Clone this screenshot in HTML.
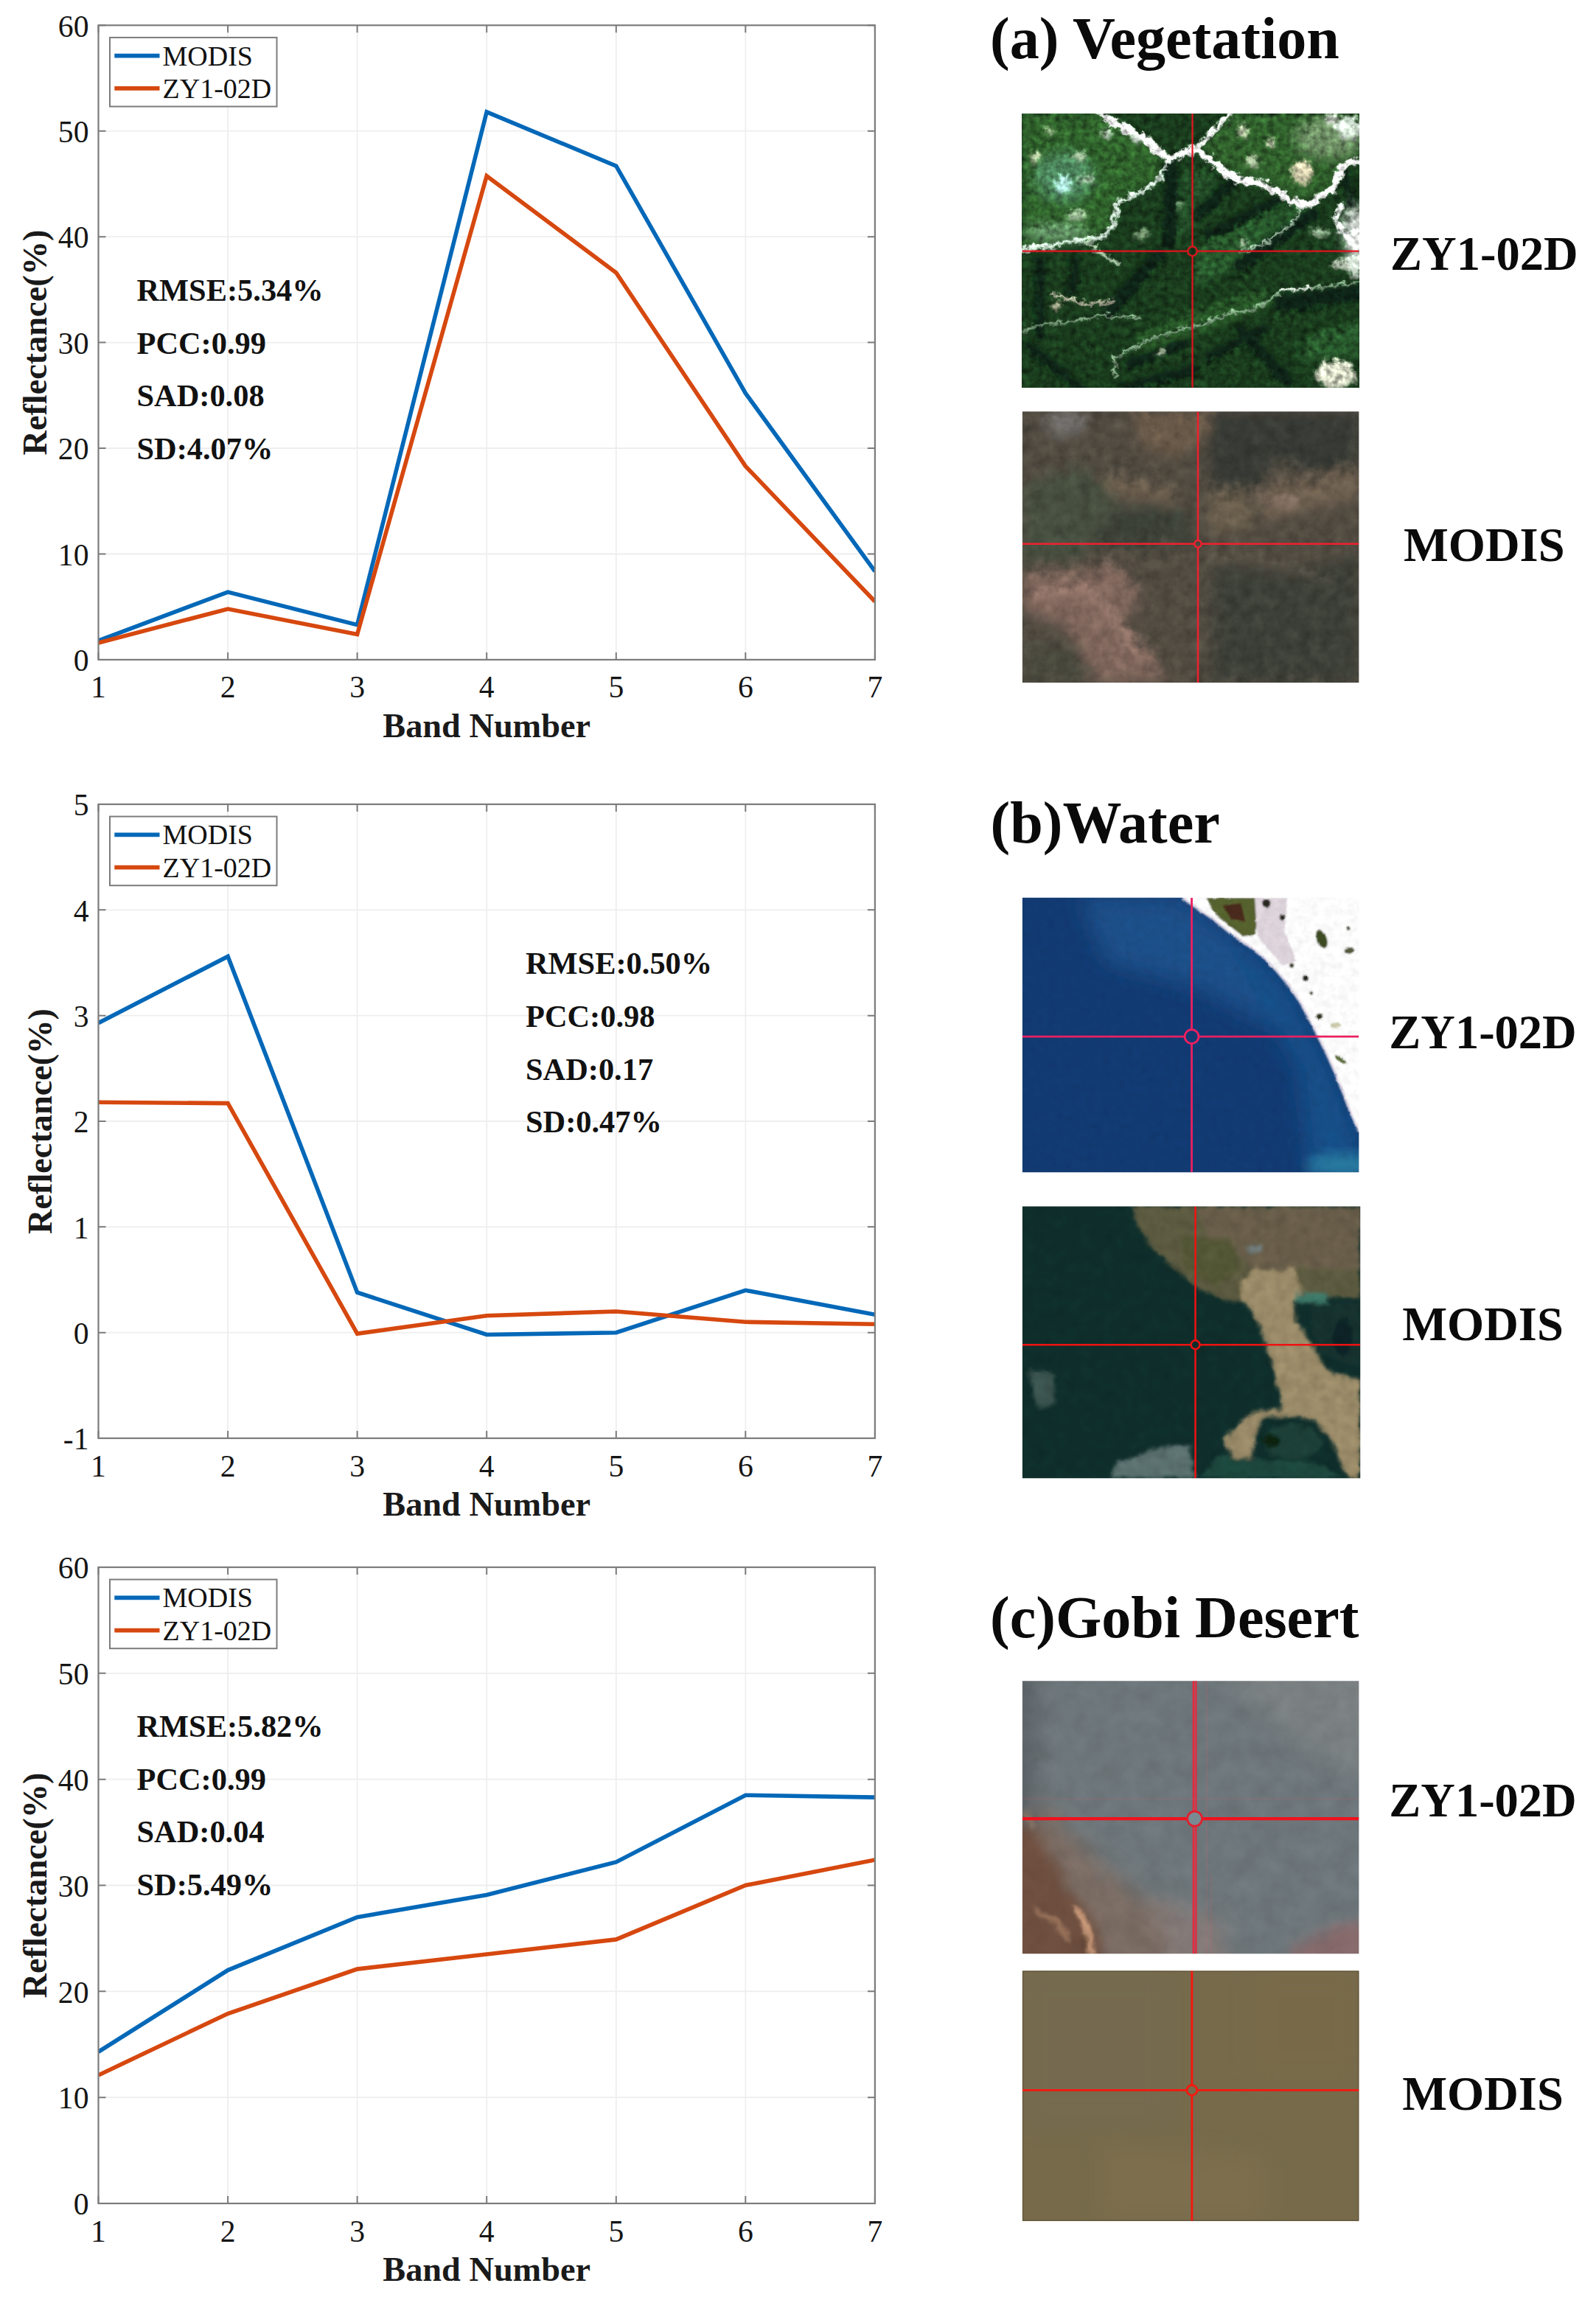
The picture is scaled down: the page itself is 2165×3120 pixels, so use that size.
<!DOCTYPE html>
<html><head><meta charset="utf-8"><title>Figure</title>
<style>
html,body{margin:0;padding:0;background:#fff}
body{width:2165px;height:3120px;overflow:hidden}
svg{display:block}
text{font-family:"Liberation Serif", serif}
</style></head><body>
<svg width="2165" height="3120" viewBox="0 0 2165 3120">
<rect width="2165" height="3120" fill="#fff"/>
<g>
<path d="M309.1 34.3V894.9M484.6 34.3V894.9M660.2 34.3V894.9M835.8 34.3V894.9M1011.3 34.3V894.9M133.5 751.5H1186.9M133.5 608.0H1186.9M133.5 464.6H1186.9M133.5 321.2H1186.9M133.5 177.7H1186.9" stroke="#eeeeee" stroke-width="1.8" fill="none"/>
<polyline points="133.5,869.1 309.1,803.1 484.6,847.6 660.2,151.9 835.8,225.1 1011.3,533.4 1186.9,775.1" fill="none" stroke="#0468B8" stroke-width="5.6" stroke-linejoin="miter" clip-path="url(#c34)"/>
<polyline points="133.5,872.0 309.1,826.1 484.6,860.5 660.2,238.7 835.8,369.9 1011.3,632.4 1186.9,816.0" fill="none" stroke="#D6480F" stroke-width="5.6" stroke-linejoin="miter" clip-path="url(#c34)"/>
<clipPath id="c34"><rect x="133.5" y="34.3" width="1053.4" height="860.6"/></clipPath>
<path d="M133.5 894.9v-10M133.5 34.3v10M309.1 894.9v-10M309.1 34.3v10M484.6 894.9v-10M484.6 34.3v10M660.2 894.9v-10M660.2 34.3v10M835.8 894.9v-10M835.8 34.3v10M1011.3 894.9v-10M1011.3 34.3v10M1186.9 894.9v-10M1186.9 34.3v10M133.5 894.9h10M1186.9 894.9h-10M133.5 751.5h10M1186.9 751.5h-10M133.5 608.0h10M1186.9 608.0h-10M133.5 464.6h10M1186.9 464.6h-10M133.5 321.2h10M1186.9 321.2h-10M133.5 177.7h10M1186.9 177.7h-10M133.5 34.3h10M1186.9 34.3h-10" stroke="#7c7c7c" stroke-width="2" fill="none"/>
<rect x="133.5" y="34.3" width="1053.4" height="860.6" fill="none" stroke="#7c7c7c" stroke-width="2.2"/>
<g font-size="41.7" fill="#151515">
<text x="133.5" y="946.4" text-anchor="middle">1</text>
<text x="309.1" y="946.4" text-anchor="middle">2</text>
<text x="484.6" y="946.4" text-anchor="middle">3</text>
<text x="660.2" y="946.4" text-anchor="middle">4</text>
<text x="835.8" y="946.4" text-anchor="middle">5</text>
<text x="1011.3" y="946.4" text-anchor="middle">6</text>
<text x="1186.9" y="946.4" text-anchor="middle">7</text>
<text x="120.5" y="910.1" text-anchor="end">0</text>
<text x="120.5" y="766.7" text-anchor="end">10</text>
<text x="120.5" y="623.2" text-anchor="end">20</text>
<text x="120.5" y="479.8" text-anchor="end">30</text>
<text x="120.5" y="336.4" text-anchor="end">40</text>
<text x="120.5" y="192.9" text-anchor="end">50</text>
<text x="120.5" y="49.5" text-anchor="end">60</text>
</g>
<text x="660.2" y="999.9" text-anchor="middle" font-size="46.3" font-weight="bold" fill="#1a1a1a">Band Number</text>
<text transform="translate(62.5,464.6) rotate(-90)" text-anchor="middle" font-size="46.3" font-weight="bold" fill="#1a1a1a">Reflectance(%)</text>
<rect x="149.0" y="50.9" width="226.5" height="93.6" fill="#fff" stroke="#7c7c7c" stroke-width="2"/>
<path d="M155.3 75.6h61.2" stroke="#0468B8" stroke-width="5.8"/>
<path d="M155.3 119.9h61.2" stroke="#D6480F" stroke-width="5.8"/>
<text x="220.5" y="88.69999999999999" font-size="38.0" fill="#111">MODIS</text>
<text x="220.5" y="132.9" font-size="38.0" fill="#111">ZY1-02D</text>
<g font-size="42.4" font-weight="bold" fill="#111">
<text x="185.5" y="407.8">RMSE:5.34%</text>
<text x="185.5" y="479.6">PCC:0.99</text>
<text x="185.5" y="551.4">SAD:0.08</text>
<text x="185.5" y="623.2">SD:4.07%</text>
</g>
</g>
<g>
<path d="M309.1 1091V1951M484.6 1091V1951M660.2 1091V1951M835.8 1091V1951M1011.3 1091V1951M133.5 1807.7H1186.9M133.5 1664.3H1186.9M133.5 1521.0H1186.9M133.5 1377.7H1186.9M133.5 1234.3H1186.9" stroke="#eeeeee" stroke-width="1.8" fill="none"/>
<polyline points="133.5,1387.7 309.1,1297.4 484.6,1753.2 660.2,1810.5 835.8,1807.7 1011.3,1750.3 1186.9,1783.3" fill="none" stroke="#0468B8" stroke-width="5.6" stroke-linejoin="miter" clip-path="url(#c1091)"/>
<polyline points="133.5,1495.2 309.1,1496.6 484.6,1809.1 660.2,1784.7 835.8,1779.0 1011.3,1793.3 1186.9,1796.2" fill="none" stroke="#D6480F" stroke-width="5.6" stroke-linejoin="miter" clip-path="url(#c1091)"/>
<clipPath id="c1091"><rect x="133.5" y="1091" width="1053.4" height="860"/></clipPath>
<path d="M133.5 1951v-10M133.5 1091v10M309.1 1951v-10M309.1 1091v10M484.6 1951v-10M484.6 1091v10M660.2 1951v-10M660.2 1091v10M835.8 1951v-10M835.8 1091v10M1011.3 1951v-10M1011.3 1091v10M1186.9 1951v-10M1186.9 1091v10M133.5 1951.0h10M1186.9 1951.0h-10M133.5 1807.7h10M1186.9 1807.7h-10M133.5 1664.3h10M1186.9 1664.3h-10M133.5 1521.0h10M1186.9 1521.0h-10M133.5 1377.7h10M1186.9 1377.7h-10M133.5 1234.3h10M1186.9 1234.3h-10M133.5 1091.0h10M1186.9 1091.0h-10" stroke="#7c7c7c" stroke-width="2" fill="none"/>
<rect x="133.5" y="1091" width="1053.4" height="860" fill="none" stroke="#7c7c7c" stroke-width="2.2"/>
<g font-size="41.7" fill="#151515">
<text x="133.5" y="2002.5" text-anchor="middle">1</text>
<text x="309.1" y="2002.5" text-anchor="middle">2</text>
<text x="484.6" y="2002.5" text-anchor="middle">3</text>
<text x="660.2" y="2002.5" text-anchor="middle">4</text>
<text x="835.8" y="2002.5" text-anchor="middle">5</text>
<text x="1011.3" y="2002.5" text-anchor="middle">6</text>
<text x="1186.9" y="2002.5" text-anchor="middle">7</text>
<text x="120.5" y="1966.2" text-anchor="end">-1</text>
<text x="120.5" y="1822.9" text-anchor="end">0</text>
<text x="120.5" y="1679.5" text-anchor="end">1</text>
<text x="120.5" y="1536.2" text-anchor="end">2</text>
<text x="120.5" y="1392.9" text-anchor="end">3</text>
<text x="120.5" y="1249.5" text-anchor="end">4</text>
<text x="120.5" y="1106.2" text-anchor="end">5</text>
</g>
<text x="660.2" y="2056.0" text-anchor="middle" font-size="46.3" font-weight="bold" fill="#1a1a1a">Band Number</text>
<text transform="translate(69.5,1521.0) rotate(-90)" text-anchor="middle" font-size="46.3" font-weight="bold" fill="#1a1a1a">Reflectance(%)</text>
<rect x="149.0" y="1107.6" width="226.5" height="93.6" fill="#fff" stroke="#7c7c7c" stroke-width="2"/>
<path d="M155.3 1132.3h61.2" stroke="#0468B8" stroke-width="5.8"/>
<path d="M155.3 1176.6h61.2" stroke="#D6480F" stroke-width="5.8"/>
<text x="220.5" y="1145.3999999999999" font-size="38.0" fill="#111">MODIS</text>
<text x="220.5" y="1189.6" font-size="38.0" fill="#111">ZY1-02D</text>
<g font-size="42.4" font-weight="bold" fill="#111">
<text x="713" y="1321.0">RMSE:0.50%</text>
<text x="713" y="1392.8">PCC:0.98</text>
<text x="713" y="1464.6">SAD:0.17</text>
<text x="713" y="1536.4">SD:0.47%</text>
</g>
</g>
<g>
<path d="M309.1 2126V2989M484.6 2126V2989M660.2 2126V2989M835.8 2126V2989M1011.3 2126V2989M133.5 2845.2H1186.9M133.5 2701.3H1186.9M133.5 2557.5H1186.9M133.5 2413.7H1186.9M133.5 2269.8H1186.9" stroke="#eeeeee" stroke-width="1.8" fill="none"/>
<polyline points="133.5,2783.3 309.1,2672.6 484.6,2600.7 660.2,2570.4 835.8,2525.9 1011.3,2435.2 1186.9,2438.1" fill="none" stroke="#0468B8" stroke-width="5.6" stroke-linejoin="miter" clip-path="url(#c2126)"/>
<polyline points="133.5,2815.0 309.1,2731.5 484.6,2671.1 660.2,2651.0 835.8,2630.9 1011.3,2557.5 1186.9,2523.0" fill="none" stroke="#D6480F" stroke-width="5.6" stroke-linejoin="miter" clip-path="url(#c2126)"/>
<clipPath id="c2126"><rect x="133.5" y="2126" width="1053.4" height="863"/></clipPath>
<path d="M133.5 2989v-10M133.5 2126v10M309.1 2989v-10M309.1 2126v10M484.6 2989v-10M484.6 2126v10M660.2 2989v-10M660.2 2126v10M835.8 2989v-10M835.8 2126v10M1011.3 2989v-10M1011.3 2126v10M1186.9 2989v-10M1186.9 2126v10M133.5 2989.0h10M1186.9 2989.0h-10M133.5 2845.2h10M1186.9 2845.2h-10M133.5 2701.3h10M1186.9 2701.3h-10M133.5 2557.5h10M1186.9 2557.5h-10M133.5 2413.7h10M1186.9 2413.7h-10M133.5 2269.8h10M1186.9 2269.8h-10M133.5 2126.0h10M1186.9 2126.0h-10" stroke="#7c7c7c" stroke-width="2" fill="none"/>
<rect x="133.5" y="2126" width="1053.4" height="863" fill="none" stroke="#7c7c7c" stroke-width="2.2"/>
<g font-size="41.7" fill="#151515">
<text x="133.5" y="3040.5" text-anchor="middle">1</text>
<text x="309.1" y="3040.5" text-anchor="middle">2</text>
<text x="484.6" y="3040.5" text-anchor="middle">3</text>
<text x="660.2" y="3040.5" text-anchor="middle">4</text>
<text x="835.8" y="3040.5" text-anchor="middle">5</text>
<text x="1011.3" y="3040.5" text-anchor="middle">6</text>
<text x="1186.9" y="3040.5" text-anchor="middle">7</text>
<text x="120.5" y="3004.2" text-anchor="end">0</text>
<text x="120.5" y="2860.4" text-anchor="end">10</text>
<text x="120.5" y="2716.5" text-anchor="end">20</text>
<text x="120.5" y="2572.7" text-anchor="end">30</text>
<text x="120.5" y="2428.9" text-anchor="end">40</text>
<text x="120.5" y="2285.0" text-anchor="end">50</text>
<text x="120.5" y="2141.2" text-anchor="end">60</text>
</g>
<text x="660.2" y="3094.0" text-anchor="middle" font-size="46.3" font-weight="bold" fill="#1a1a1a">Band Number</text>
<text transform="translate(62.5,2557.5) rotate(-90)" text-anchor="middle" font-size="46.3" font-weight="bold" fill="#1a1a1a">Reflectance(%)</text>
<rect x="149.0" y="2142.6" width="226.5" height="93.6" fill="#fff" stroke="#7c7c7c" stroke-width="2"/>
<path d="M155.3 2167.2999999999997h61.2" stroke="#0468B8" stroke-width="5.8"/>
<path d="M155.3 2211.6h61.2" stroke="#D6480F" stroke-width="5.8"/>
<text x="220.5" y="2180.4" font-size="38.0" fill="#111">MODIS</text>
<text x="220.5" y="2224.6" font-size="38.0" fill="#111">ZY1-02D</text>
<g font-size="42.4" font-weight="bold" fill="#111">
<text x="185.5" y="2355.8">RMSE:5.82%</text>
<text x="185.5" y="2427.6">PCC:0.99</text>
<text x="185.5" y="2499.4">SAD:0.04</text>
<text x="185.5" y="2571.2">SD:5.49%</text>
</g>
</g>
<g font-weight="bold" fill="#0a0a0a">
<text x="1343" y="78.5" font-size="80.1">(a) Vegetation</text>
<text x="1343.5" y="1142.7" font-size="80.1">(b)Water</text>
<text x="1343" y="2221.2" font-size="80.1">(c)Gobi Desert</text>
<text x="2013.3" y="366.2" font-size="64.5" text-anchor="middle">ZY1-02D</text>
<text x="2011.5" y="1422.1" font-size="64.5" text-anchor="middle">ZY1-02D</text>
<text x="2011.5" y="2464" font-size="64.5" text-anchor="middle">ZY1-02D</text>
<text x="2013.3" y="760.9" font-size="64.5" text-anchor="middle">MODIS</text>
<text x="2011.5" y="1817.5" font-size="64.5" text-anchor="middle">MODIS</text>
<text x="2011.5" y="2861.5" font-size="64.5" text-anchor="middle">MODIS</text>
</g>
<defs>
<filter id="b4" x="-20%" y="-20%" width="140%" height="140%"><feGaussianBlur stdDeviation="4"/></filter>
<filter id="b8" x="-20%" y="-20%" width="140%" height="140%"><feGaussianBlur stdDeviation="8"/></filter>
<filter id="b14" x="-20%" y="-20%" width="140%" height="140%"><feGaussianBlur stdDeviation="14"/></filter>
<filter id="b25" x="-30%" y="-30%" width="160%" height="160%"><feGaussianBlur stdDeviation="25"/></filter>
<filter id="b45" x="-40%" y="-40%" width="180%" height="180%"><feGaussianBlur stdDeviation="45"/></filter>
</defs>
<svg x="1370" y="140" width="500" height="400" viewBox="0 0 1596 1276.8" preserveAspectRatio="none">
<clipPath id="ip1"><rect x="54" y="45" width="1457" height="1187"/></clipPath>
<g clip-path="url(#ip1)">
<filter id="tx1" filterUnits="userSpaceOnUse" x="-6" y="-15" width="1577" height="1307" color-interpolation-filters="sRGB"><feTurbulence type="fractalNoise" baseFrequency="0.035" numOctaves="4" seed="3" result="n"/><feDisplacementMap in="SourceGraphic" in2="n" scale="45" xChannelSelector="R" yChannelSelector="G" result="d"/><feColorMatrix in="n" type="matrix" values="0 0.6 0.4 0 0  0 0.6 0.4 0 0  0 0.6 0.4 0 0  0 0 0 0 1" result="g"/><feComposite in="d" in2="g" operator="arithmetic" k1="1.5" k2="0.28" k3="0" k4="0"/></filter>
<g filter="url(#tx1)">
<rect x="-6" y="-15" width="1577" height="1307" fill="#888" opacity="0"/>
<rect x="-26" y="-35" width="1617" height="1347" fill="#193a1c"/>
<g filter="url(#b14)">
<polygon points="54,45 400,45 640,180 650,330 460,420 440,540 330,590 54,620" fill="#2e5e2a"/>
<polygon points="830,200 960,45 1511,45 1511,240 1430,270 1400,370 1260,430 1100,340 950,300" fill="#2d5b29"/>
<polygon points="820,620 1100,470 1300,440 1250,560 1000,700 800,800" fill="#28542a"/>
<polygon points="560,1000 800,900 1100,800 1130,880 800,1010 560,1090" fill="#275228"/>
<polygon points="760,260 900,330 780,560 700,600" fill="#234c26"/>
<polygon points="1300,1000 1511,950 1511,1100 1250,1120" fill="#28542a"/>
</g>
<g filter="url(#b8)" stroke="#0c2416" fill="none" stroke-linecap="round">
<path d="M960,345 L820,480" stroke-width="50"/>
<path d="M1150,425 L860,570" stroke-width="42"/>
<path d="M1310,480 L1000,700" stroke-width="55"/>
<path d="M700,270 L690,600" stroke-width="60"/>
<path d="M640,660 L430,900" stroke-width="60"/>
<path d="M1180,870 L1511,820" stroke-width="70"/>
<path d="M1000,980 L1200,1200" stroke-width="50"/>
<path d="M130,680 L130,1000M280,680 L270,820M80,1050 L300,1232" stroke-width="40"/>
<path d="M520,1130 L760,1040M860,1100 L1100,980M500,1232 L800,1150" stroke-width="40"/>
<path d="M1450,300 L1480,420" stroke-width="40"/>
</g>
<g filter="url(#b4)" fill="none" stroke-linejoin="round" stroke-linecap="round">
<path d="M690,240 L665,290 L640,340 L560,390 L470,425 L455,470 L450,530 L400,580 L330,592 L250,600 L180,620 L54,632" stroke="#d4e8da" stroke-width="17"/>
<path d="M1260,440 L1245,490 L1190,545 L1120,600 L1050,630 L1000,642" stroke="#a6c2aa" stroke-width="10"/>
<path d="M1511,775 L1400,790 L1300,800 L1180,812 L1130,850 L1060,890 L950,912 L850,950 L700,990 L600,1025 L500,1080 L440,1110" stroke="#8fb092" stroke-width="10"/>
<path d="M1170,815 L1300,800" stroke="#dfe8e0" stroke-width="14"/>
<path d="M180,830 L330,870 L450,858" stroke="#b9b6a0" stroke-width="12"/>
<path d="M60,990 L120,960 L250,950 L400,920 L560,930" stroke="#86a688" stroke-width="10"/>
<path d="M450,1110 L462,1190" stroke="#a9c4a4" stroke-width="8"/>
<path d="M330,592 L380,640 L460,690" stroke="#a5c2a2" stroke-width="18"/>
<path d="M400,45 L440,80 L500,110 L560,140 L615,175 L650,215 L690,240 L740,218 L800,205 L850,232 L900,272 L950,315 L1020,340 L1100,352 L1150,380 L1200,410 L1260,440 L1310,430 L1350,400 L1400,370 L1418,320 L1432,280 L1470,255 L1511,250" stroke="#ffffff" stroke-width="30"/>
<path d="M800,205 L835,165 L885,115 L940,60 L955,45" stroke="#f4f8f4" stroke-width="18"/>
<path d="M1432,450 L1410,500 L1435,545 L1475,590 L1511,610" stroke="#e8f0ea" stroke-width="20"/>
</g>
<g filter="url(#b25)">
<ellipse cx="235" cy="320" rx="130" ry="110" fill="#7fc4b4" opacity=".36"/>
<ellipse cx="1380" cy="150" rx="150" ry="90" fill="#b8c8a8" opacity=".45"/>
<ellipse cx="1495" cy="560" rx="45" ry="120" fill="#ffffff" opacity=".9"/>
<ellipse cx="200" cy="560" rx="140" ry="40" fill="#9ec8a8" opacity=".5"/>
</g>
<g filter="url(#b8)">
<circle cx="232" cy="352" r="36" fill="#baf2ea"/>
<circle cx="1130" cy="170" r="20" fill="#cfd8b8"/>
<circle cx="1390" cy="70" r="26" fill="#dde6d8"/>
<ellipse cx="1010" cy="120" rx="22" ry="30" fill="#c4d0b0"/>
<circle cx="420" cy="130" r="20" fill="#c8dcc8"/>
<circle cx="170" cy="120" r="18" fill="#aeca9e"/>
<ellipse cx="330" cy="330" rx="30" ry="16" fill="#b6d2b2"/>
<ellipse cx="1340" cy="560" rx="40" ry="16" fill="#9cb898"/>
<ellipse cx="1440" cy="700" rx="50" ry="20" fill="#c0ccb8"/>
<circle cx="110" cy="232" r="24" fill="#c2d4aa"/>
<circle cx="300" cy="230" r="22" fill="#b9d2b0"/>
<ellipse cx="290" cy="485" rx="45" ry="22" fill="#a9caa2"/>
<ellipse cx="1265" cy="300" rx="45" ry="50" fill="#d6cfae"/>
<circle cx="1050" cy="250" r="28" fill="#b8cca8"/>
<ellipse cx="1465" cy="105" rx="55" ry="50" fill="#cfe0d0"/>
<ellipse cx="1410" cy="1175" rx="85" ry="60" fill="#d4d8c2"/>
<ellipse cx="1495" cy="690" rx="35" ry="60" fill="#cfdccf"/>
<circle cx="1500" cy="590" r="42" fill="#f4f8f4"/>
<circle cx="650" cy="1078" r="14" fill="#cfe0c0"/>
<ellipse cx="570" cy="570" rx="32" ry="24" fill="#7f9f78"/>
<circle cx="1010" cy="605" r="18" fill="#a8c0a0"/>
<circle cx="545" cy="150" r="22" fill="#d8e8da"/>
<circle cx="200" cy="880" r="18" fill="#b7b49a"/>
<circle cx="740" cy="440" r="14" fill="#7c9c78"/>
</g>
</g>
<path d="M54 641H770M810 641H1511M790 45V621M790 661V1232" stroke="#e6141e" stroke-width="7" fill="none"/><circle cx="790" cy="641" r="20" fill="none" stroke="#e6141e" stroke-width="7"/>
</g></svg>
<svg x="1370" y="540" width="500" height="400" viewBox="0 0 1596 1276.8" preserveAspectRatio="none">
<clipPath id="ip2"><rect x="54" y="58" width="1457" height="1174"/></clipPath>
<g clip-path="url(#ip2)">
<filter id="tx2" filterUnits="userSpaceOnUse" x="-6" y="-2" width="1577" height="1294" color-interpolation-filters="sRGB"><feTurbulence type="fractalNoise" baseFrequency="0.02" numOctaves="4" seed="7" result="n"/><feDisplacementMap in="SourceGraphic" in2="n" scale="60" xChannelSelector="R" yChannelSelector="G" result="d"/><feColorMatrix in="n" type="matrix" values="0 0.6 0.4 0 0  0 0.6 0.4 0 0  0 0.6 0.4 0 0  0 0 0 0 1" result="g"/><feComposite in="d" in2="g" operator="arithmetic" k1="0.6" k2="0.7" k3="0" k4="0"/></filter>
<g filter="url(#tx2)">
<rect x="-6" y="-2" width="1577" height="1294" fill="#888" opacity="0"/>
<rect x="-26" y="-22" width="1617" height="1334" fill="#514b41"/>
<g filter="url(#b25)">
<polygon points="880,58 1511,58 1511,300 1300,330 1150,250 1080,380 900,400 850,250" fill="#393b35"/>
<polygon points="250,480 760,470 800,620 500,660 300,620" fill="#3c4238"/>
<polygon points="54,380 300,300 480,420 300,700 54,700" fill="#475040"/>
<polygon points="880,720 1200,760 1511,680 1511,1232 880,1232" fill="#3e3f38"/>
<polygon points="54,760 300,740 480,720 570,860 480,1000 620,1100 670,1232 380,1232 250,1000 54,920" fill="#7f665b"/>
<polygon points="540,58 870,58 840,200 700,260 560,200" fill="#6a5a4a"/>
<polygon points="1100,380 1511,300 1511,440 1250,500 1080,540" fill="#6d5f50"/>
<polygon points="850,420 1040,400 1060,560 880,600" fill="#6a5e4e"/>
<ellipse cx="240" cy="110" rx="90" ry="50" fill="#74726f"/>
<polygon points="400,330 700,380 740,470 420,420" fill="#6b5d4d"/>
<polygon points="54,1050 300,1100 350,1232 54,1232" fill="#4a4a3e"/>
</g>
<g filter="url(#b14)">
<path d="M130,860 L330,830 L470,980 L560,1120" stroke="#94766a" stroke-width="46" fill="none" stroke-linecap="round"/>
<ellipse cx="1180" cy="450" rx="80" ry="34" fill="#7f6c5f"/>
<path d="M830,720 L1000,690 L1200,730 L1400,800" stroke="#5a5448" stroke-width="20" fill="none"/>
</g>
</g>
<path d="M54 631H799M829 631H1511M814 58V616M814 646V1232" stroke="#f0202e" stroke-width="8" fill="none"/><circle cx="814" cy="631" r="15" fill="none" stroke="#f0202e" stroke-width="8"/>
</g></svg>
<svg x="1370" y="1200" width="500" height="400" viewBox="0 0 1596 1276.8" preserveAspectRatio="none">
<clipPath id="ip3"><rect x="54" y="57" width="1457" height="1189"/></clipPath>
<g clip-path="url(#ip3)">
<filter id="tx3" filterUnits="userSpaceOnUse" x="-6" y="-3" width="1577" height="1309" color-interpolation-filters="sRGB"><feTurbulence type="fractalNoise" baseFrequency="0.03" numOctaves="3" seed="5" result="n"/><feDisplacementMap in="SourceGraphic" in2="n" scale="10" xChannelSelector="R" yChannelSelector="G" result="d"/><feColorMatrix in="n" type="matrix" values="0 0.6 0.4 0 0  0 0.6 0.4 0 0  0 0.6 0.4 0 0  0 0 0 0 1" result="g"/><feComposite in="d" in2="g" operator="arithmetic" k1="0.16" k2="0.92" k3="0" k4="0"/></filter>
<g filter="url(#tx3)">
<rect x="-6" y="-3" width="1577" height="1309" fill="#888" opacity="0"/>
<rect x="-26" y="-23" width="1617" height="1349" fill="#123a72"/>
<g filter="url(#b45)">
<polygon points="300,57 745,57 1100,330 1300,620 1180,640 800,440 420,340" fill="#1d5088"/>
<polygon points="900,200 1200,430 1400,820 1511,1100 1511,1246 1300,1246 1250,800 1050,450" fill="#185088"/>
</g>
<g filter="url(#b25)"><ellipse cx="1450" cy="1215" rx="170" ry="50" fill="#2a86a8" opacity=".8"/></g>
<g filter="url(#b4)">
<polygon points="745,57 800,95 880,150 960,215 1040,270 1110,325 1160,380 1210,440 1250,500 1290,570 1330,650 1370,730 1410,820 1450,920 1480,1000 1511,1070 1600,1070 1600,-30 720,-30" fill="#fcfcfc"/>
<polyline points="745,57 800,95 880,150 960,215 1040,270 1110,325 1160,380 1210,440 1250,500 1290,570 1330,650 1370,730 1410,820 1450,920 1480,1000 1511,1070" fill="none" stroke="#d8d0e0" stroke-width="10"/>
<polygon points="850,57 1085,57 1075,150 1060,215 1010,225 940,170 880,120" fill="#56622e"/>
<polygon points="920,90 1000,80 1020,160 960,150" fill="#4a2c1c"/>
<polygon points="1060,57 1200,57 1190,200 1240,330 1180,350 1120,280 1070,220" fill="#dcd2da"/>
<ellipse cx="1350" cy="235" rx="22" ry="42" fill="#3c4c22" transform="rotate(-20 1350 235)"/>
<circle cx="1110" cy="80" r="18" fill="#2a2a22"/>
<circle cx="1180" cy="140" r="12" fill="#2a2a22"/>
<circle cx="1280" cy="405" r="13" fill="#26261e"/>
<circle cx="1220" cy="350" r="10" fill="#3a3a2a"/>
<circle cx="1340" cy="572" r="14" fill="#30361e"/>
<circle cx="1305" cy="470" r="8" fill="#4a4a3a"/>
<ellipse cx="1432" cy="758" rx="30" ry="10" fill="#5a6c34" transform="rotate(35 1432 758)"/>
<ellipse cx="1470" cy="285" rx="22" ry="14" fill="#55583a"/>
<circle cx="1465" cy="190" r="8" fill="#33331f"/>
<ellipse cx="1410" cy="610" rx="24" ry="12" fill="#c8c8a8"/>
</g>
</g>
<path d="M54 658H757M817 658H1511M787 57V628M787 688V1246" stroke="#ea2060" stroke-width="9" fill="none"/><circle cx="787" cy="658" r="30" fill="none" stroke="#ea2060" stroke-width="9"/>
</g></svg>
<svg x="1370" y="1620" width="500" height="400" viewBox="0 0 1596 1276.8" preserveAspectRatio="none">
<clipPath id="ip4"><rect x="54" y="53" width="1463" height="1177"/></clipPath>
<g clip-path="url(#ip4)">
<filter id="tx4" filterUnits="userSpaceOnUse" x="-6" y="-7" width="1583" height="1297" color-interpolation-filters="sRGB"><feTurbulence type="fractalNoise" baseFrequency="0.02" numOctaves="2" seed="11" result="n"/><feDisplacementMap in="SourceGraphic" in2="n" scale="30" xChannelSelector="R" yChannelSelector="G" result="d"/><feColorMatrix in="n" type="matrix" values="0 0.6 0.4 0 0  0 0.6 0.4 0 0  0 0.6 0.4 0 0  0 0 0 0 1" result="g"/><feComposite in="d" in2="g" operator="arithmetic" k1="0.3" k2="0.85" k3="0" k4="0"/></filter>
<g filter="url(#tx4)">
<rect x="-6" y="-7" width="1583" height="1297" fill="#888" opacity="0"/>
<rect x="-26" y="-27" width="1623" height="1337" fill="#0f2e2b"/>
<g filter="url(#b8)">
<polygon points="520,53 560,150 640,260 740,340 830,420 960,465 1300,440 1517,450 1517,53" fill="#5c5a40"/>
<polygon points="800,53 1517,53 1517,330 1250,320 1060,330 980,250 860,200" fill="#675d48"/>
<polygon points="1000,370 1060,325 1230,320 1262,420 1232,480 1242,560 1300,640 1332,700 1400,780 1517,800 1517,1230 1460,1230 1400,1080 1330,985 1240,962 1100,962 1062,1040 1050,1140 960,1150 930,1060 1000,982 1060,942 1180,930 1160,830 1130,730 1100,620 1060,520 1000,460" fill="#9a8a68"/>
<polygon points="1300,470 1517,470 1517,745 1420,722 1340,682 1300,560" fill="#13302e"/>
<ellipse cx="1225" cy="1072" rx="125" ry="78" fill="#1a4038"/>
<polygon points="620,1100 780,1080 800,1230 440,1230 450,1170" fill="#5a706e"/>
<polygon points="80,760 185,770 200,900 120,925" fill="#3b5250"/>
<polygon points="900,1130 1060,1150 1330,1160 1440,1230 820,1230" fill="#1c463e"/>
<ellipse cx="1060" cy="235" rx="35" ry="22" fill="#6f7a78"/>
<polygon points="1240,430 1380,430 1380,470 1240,470" fill="#3c7868"/>
<ellipse cx="1130" cy="1068" rx="40" ry="25" fill="#0c2410"/>
<ellipse cx="1440" cy="620" rx="40" ry="80" fill="#0b2426"/>
<polygon points="740,180 960,200 1000,330 900,400 760,330" fill="#525634"/>
</g>
</g>
<path d="M54 652H784M822 652H1517M803 53V633M803 671V1230" stroke="#f01212" stroke-width="8" fill="none"/><circle cx="803" cy="652" r="19" fill="none" stroke="#f01212" stroke-width="8"/>
</g></svg>
<svg x="1370" y="2260" width="500" height="400" viewBox="0 0 1596 1276.8" preserveAspectRatio="none">
<clipPath id="ip5"><rect x="54" y="65" width="1457" height="1181"/></clipPath>
<g clip-path="url(#ip5)">
<filter id="tx5" filterUnits="userSpaceOnUse" x="-6" y="5" width="1577" height="1301" color-interpolation-filters="sRGB"><feTurbulence type="fractalNoise" baseFrequency="0.012" numOctaves="3" seed="2" result="n"/><feDisplacementMap in="SourceGraphic" in2="n" scale="40" xChannelSelector="R" yChannelSelector="G" result="d"/><feColorMatrix in="n" type="matrix" values="0 0.6 0.4 0 0  0 0.6 0.4 0 0  0 0.6 0.4 0 0  0 0 0 0 1" result="g"/><feComposite in="d" in2="g" operator="arithmetic" k1="0.2" k2="0.9" k3="0" k4="0"/></filter>
<g filter="url(#tx5)">
<rect x="-6" y="5" width="1577" height="1301" fill="#888" opacity="0"/>
<rect x="-26" y="-15" width="1617" height="1341" fill="#6d767a"/>
<g filter="url(#b45)">
<polygon points="900,-20 1600,-20 1600,520 1200,300" fill="#7a8082"/>
<polygon points="-20,480 200,650 420,880 640,1050 900,1330 -20,1330" fill="#7a6c64"/>
<polygon points="-30,-20 130,-20 110,700 -30,700" fill="#5c6468"/>
<polygon points="640,1000 900,1100 960,1330 700,1330" fill="#847a78"/>
</g>
<g filter="url(#b25)">
<polygon points="-20,640 110,710 180,830 250,955 330,1055 385,1150 405,1330 -20,1330" fill="#6e5040"/>
<polygon points="1160,1330 1250,1200 1400,1130 1600,1095 1600,1330" fill="#866a6c"/>
</g>
<g filter="url(#b8)">
<path d="M285,1050 L335,1130 L350,1240" stroke="#c89878" stroke-width="30" fill="none" stroke-linecap="round"/>
<path d="M120,1060 L200,1110 L250,1180" stroke="#967058" stroke-width="26" fill="none" stroke-linecap="round"/>
<path d="M325,1160 L335,1250" stroke="#503828" stroke-width="12" fill="none"/>
<path d="M70,620 L100,700" stroke="#8c7868" stroke-width="16" fill="none"/>
</g>
</g>
<path d="M800 65V1246" stroke="#e02c40" stroke-width="19"/><path d="M800 65V1246" stroke="#a05a64" stroke-width="4"/><path d="M852 65V1246M872 900V1246" stroke="#c86070" stroke-width="2.5" opacity=".5"/><path d="M54 575H1511" stroke="#c86070" stroke-width="2.5" opacity=".4"/><path d="M54 661H1511" stroke="#f0121e" stroke-width="14"/><circle cx="800" cy="661" r="32" fill="#7a8a92" stroke="#e0202e" stroke-width="9"/>
</g></svg>
<svg x="1370" y="2660" width="500" height="400" viewBox="0 0 1596 1276.8" preserveAspectRatio="none">
<clipPath id="ip6"><rect x="54" y="43" width="1457" height="1083"/></clipPath>
<g clip-path="url(#ip6)">
<rect x="-26" y="-37" width="1617" height="1243" fill="#766a4b"/>
<g filter="url(#b45)">
<polygon points="54,43 700,43 700,700 54,700" fill="#756a4f"/>
<polygon points="400,800 1100,850 1100,1126 400,1126" fill="#7d6e4e"/>
<polygon points="1050,43 1511,43 1511,500 1050,500" fill="#786b4a"/>
</g>
<rect x="55.500" y="44.500" width="1454" height="1080" fill="none" stroke="#5f5337" stroke-width="5"/>
<path d="M54 560H766M810 560H1511M788 43V538M788 582V1126" stroke="#f8160e" stroke-width="9" fill="none"/><circle cx="788" cy="560" r="22" fill="none" stroke="#f8160e" stroke-width="9"/>
</g></svg>
</svg></body></html>
